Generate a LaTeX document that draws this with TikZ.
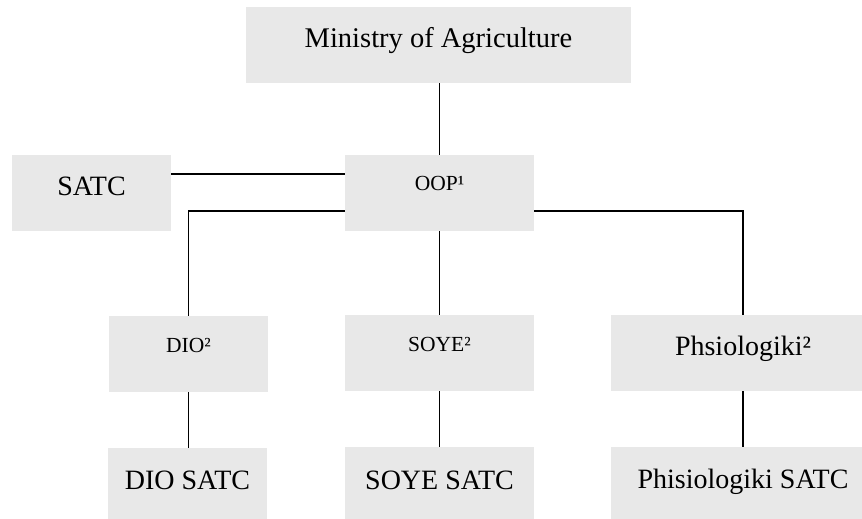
\documentclass[tikz,border=0pt]{standalone}
\usepackage{fontspec}
\setmainfont{Liberation Serif}
\definecolor{boxgray}{HTML}{E8E8E8}
\tikzset{
  orgbox/.style={fill=boxgray, inner sep=0pt, minimum height=76pt},
  big/.style={font=\fontsize{28}{33}\selectfont},
  small/.style={font=\fontsize{21.5}{26}\selectfont},
  off/.style={text height=20pt+#1pt, text depth=20pt-#1pt},
  link/.style={draw=black, line width=1.3pt}
}
\begin{document}
\begin{tikzpicture}[x=1pt,y=-1pt]
\useasboundingbox (0,0) rectangle (862,519);
\node[orgbox, minimum width=385pt, font=\fontsize{28.5}{33}\selectfont, off=3] (min) at (438.5,45) {Ministry of Agriculture};
\node[orgbox, minimum width=159pt, big, off=2] (satc) at (91.5,193) {SATC};
\node[orgbox, minimum width=189pt, small, off=-3] (oop) at (439.5,193) {OOP¹};
\node[orgbox, minimum width=159pt, small, off=-2] (dio) at (188.5,354) {DIO²};
\node[orgbox, minimum width=189pt, small, off=-2] (soye) at (439.5,353) {SOYE²};
\node[orgbox, minimum width=264pt, big, off=2] (phs) at (743,353) {Phsiologiki²};
\node[orgbox, minimum width=159pt, big, off=3] (diosatc) at (187.5,486) {DIO SATC};
\node[orgbox, minimum width=189pt, big, off=4] (soyesatc) at (439.5,485) {SOYE SATC};
\node[orgbox, minimum width=264pt, big, off=3] (phssatc) at (743,485) {Phisiologiki SATC};
% connectors
\draw[link] (oop.north) -- (oop.north |- min.south);
\draw[link] ([yshift=19pt]satc.east) -- ([yshift=19pt]satc.east -| oop.west);
\draw[link] ([yshift=-18pt]oop.west) -| (dio.north);
\draw[link] ([yshift=-18pt]oop.east) -| (phs.north);
\draw[link] (oop.south) -- (soye.north);
\draw[link] (dio.south) -- (dio.south |- diosatc.north);
\draw[link] (soye.south) -- (soyesatc.north);
\draw[link] (phs.south) -- (phssatc.north);
\end{tikzpicture}
\end{document}
